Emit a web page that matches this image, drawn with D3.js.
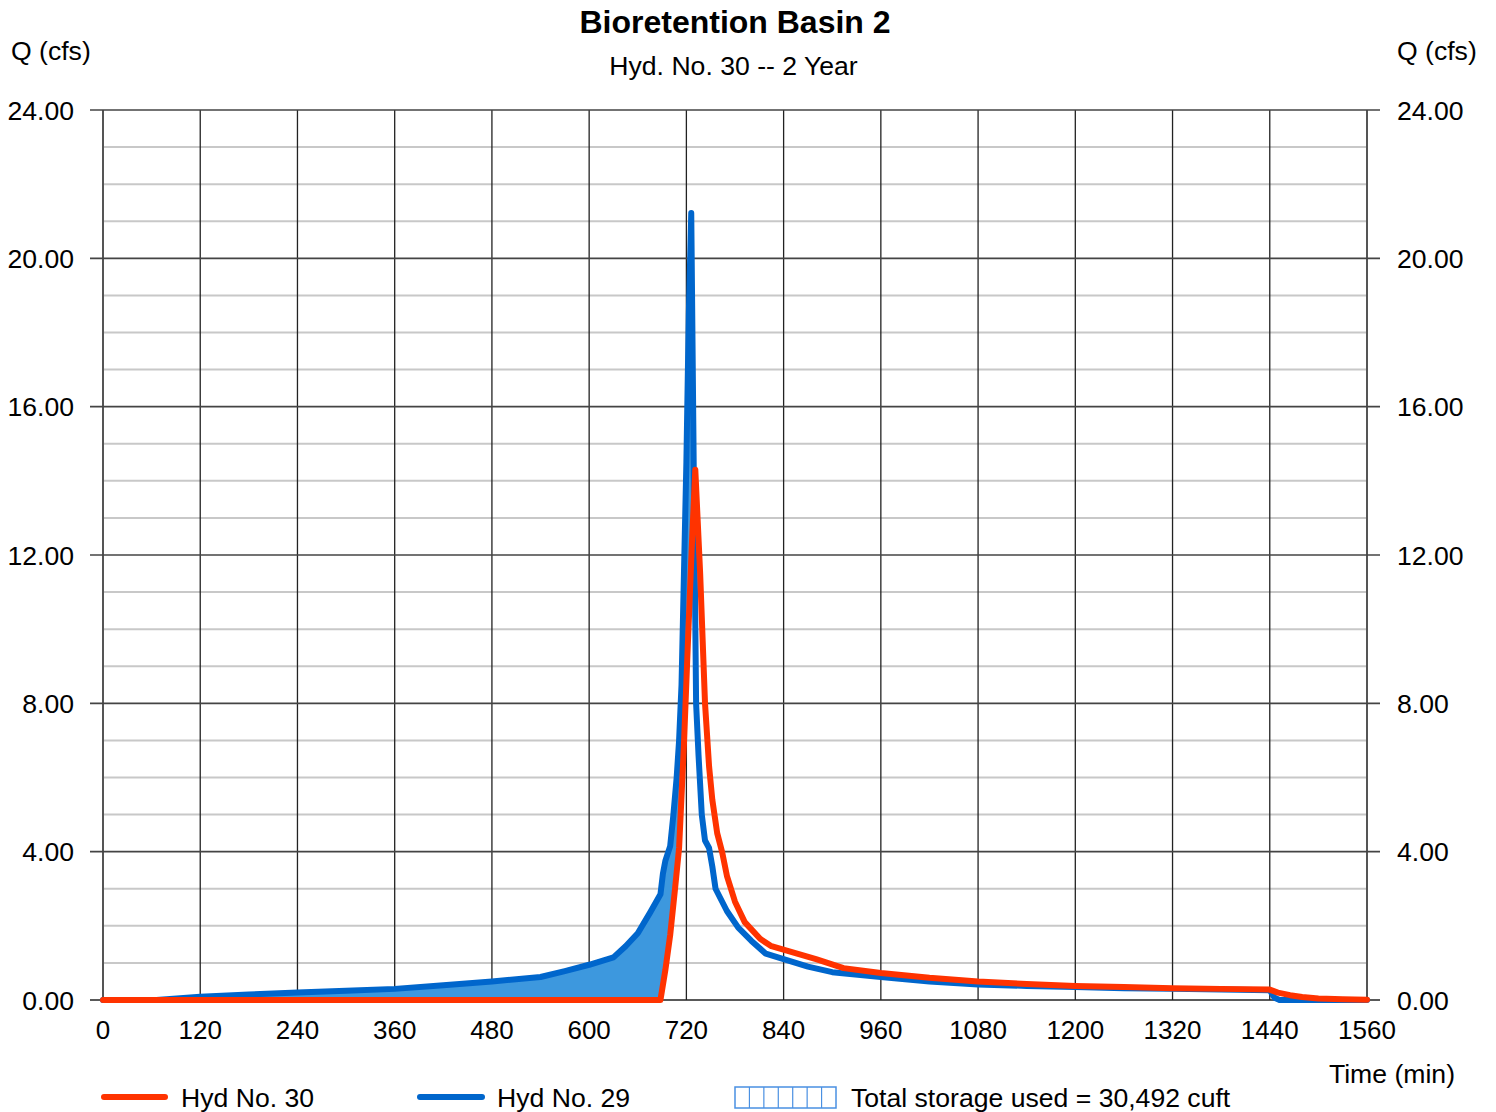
<!DOCTYPE html>
<html>
<head>
<meta charset="utf-8">
<script src="https://cdn.jsdelivr.net/npm/d3@7"></script>
<style>
  html, body { margin: 0; padding: 0; background: #fff; }
  svg { display: block; font-family: "Liberation Sans", Arial, sans-serif; }
</style>
</head>
<body>
<svg id="chart" width="1496" height="1112"></svg>
<script>
// Inflow hydrograph (Hyd No. 29): time in minutes, flow in cfs
const hyd29Time = [0, 66, 120, 180, 240, 300, 360, 420, 480, 540, 570, 600, 630, 645, 660, 675, 688, 691, 694, 700, 704, 708, 711, 714, 717, 720, 723, 726, 729, 732, 735, 739, 743, 748, 752, 756, 770, 784, 800, 818, 840, 870, 900, 960, 1020, 1080, 1140, 1200, 1260, 1320, 1380, 1440, 1446, 1452, 1560];
const hyd29Flow = [0, 0, 0.09, 0.15, 0.2, 0.25, 0.3, 0.4, 0.5, 0.62, 0.78, 0.95, 1.15, 1.45, 1.8, 2.35, 2.85, 3.4, 3.75, 4.15, 5.0, 6.0, 7.0, 8.5, 11.5, 14.5, 18.5, 21.22, 14.5, 8.0, 6.6, 5.0, 4.3, 4.1, 3.6, 3.0, 2.4, 1.95, 1.6, 1.25, 1.1, 0.9, 0.75, 0.62, 0.5, 0.42, 0.38, 0.35, 0.32, 0.3, 0.28, 0.26, 0.06, 0, 0];

// Outflow hydrograph (Hyd No. 30)
const hyd30Time = [0, 688, 694, 700, 706, 711, 717, 722, 727, 731, 737, 743, 748, 752, 758, 764, 770, 780, 792, 811, 825, 844, 880, 914, 960, 1020, 1080, 1140, 1200, 1260, 1320, 1380, 1440, 1450, 1465, 1480, 1500, 1530, 1560];
const hyd30Flow = [0, 0, 0.8, 1.75, 3.0, 4.1, 6.9, 9.7, 12.4, 14.3, 11.5, 8.0, 6.3, 5.4, 4.5, 4.0, 3.35, 2.65, 2.1, 1.65, 1.45, 1.33, 1.1, 0.86, 0.73, 0.6, 0.5, 0.43, 0.38, 0.35, 0.32, 0.3, 0.28, 0.2, 0.13, 0.08, 0.04, 0.02, 0.01];

const xTickValues = [0, 120, 240, 360, 480, 600, 720, 840, 960, 1080, 1200, 1320, 1440, 1560];
const yMajorTicks = [0, 4, 8, 12, 16, 20, 24];
const yMinorTicks = [1, 2, 3, 5, 6, 7, 9, 10, 11, 13, 14, 15, 17, 18, 19, 21, 22, 23];

const chartTitle = "Bioretention Basin 2";
const chartSubtitle = "Hyd. No. 30 -- 2 Year";
const legendLabels = ["Hyd No. 30", "Hyd No. 29", "Total storage used = 30,492 cuft"];

const hyd29 = hyd29Time.map((t, i) => ({ t, q: hyd29Flow[i] }));
const hyd30 = hyd30Time.map((t, i) => ({ t, q: hyd30Flow[i] }));

const svg = d3.select("#chart");
const plotL = 103, plotR = 1367, plotT = 110, plotB = 1000;

const x = d3.scaleLinear().domain([0, 1560]).range([plotL, plotR]);
const y = d3.scaleLinear().domain([0, 24]).range([plotB, plotT]);

const RED = "#ff3300", BLUE = "#0066cc", FILL = "#3d98de";
const FS = 26.6;

// Minor horizontal grid
svg.append("g").selectAll("line").data(yMinorTicks).join("line")
  .attr("x1", plotL).attr("x2", plotR)
  .attr("y1", d => y(d)).attr("y2", d => y(d))
  .attr("stroke", "#c8c8c8").attr("stroke-width", 2);

// Vertical grid
svg.append("g").selectAll("line").data(xTickValues).join("line")
  .attr("x1", d => x(d)).attr("x2", d => x(d))
  .attr("y1", plotT).attr("y2", plotB)
  .attr("stroke", d => (d === 0 || d === 1560) ? "#555" : "#222")
  .attr("stroke-width", d => (d === 0 || d === 1560) ? 2 : 1.3);

// Major horizontal grid with outside ticks on both sides
svg.append("g").selectAll("line").data(yMajorTicks).join("line")
  .attr("x1", plotL - 13).attr("x2", plotR + 13)
  .attr("y1", d => y(d)).attr("y2", d => y(d))
  .attr("stroke", d => d === 0 ? "#222" : "#444").attr("stroke-width", 1.6);

// Y tick labels (left and right)
const fmt = d3.format(".2f");
svg.append("g").selectAll("text").data(yMajorTicks).join("text")
  .attr("x", 74).attr("y", d => y(d) + 9.5)
  .attr("text-anchor", "end").attr("font-size", FS)
  .text(d => fmt(d));
svg.append("g").selectAll("text").data(yMajorTicks).join("text")
  .attr("x", 1397).attr("y", d => y(d) + 9.5)
  .attr("text-anchor", "start").attr("font-size", FS)
  .text(d => fmt(d));

// X tick labels
svg.append("g").selectAll("text").data(xTickValues).join("text")
  .attr("x", d => x(d)).attr("y", 1039)
  .attr("text-anchor", "middle").attr("font-size", 26)
  .text(d => d);

// Storage fill: area under inflow, limited to the region above outflow
const defs = svg.append("defs");
defs.append("clipPath").attr("id", "above-outflow")
  .append("path")
  .attr("d", d3.area().x(d => x(d.t)).y0(y(24)).y1(d => y(d.q))(hyd30));

svg.append("path")
  .attr("d", d3.area().x(d => x(d.t)).y0(y(0)).y1(d => y(d.q))(hyd29))
  .attr("fill", FILL)
  .attr("clip-path", "url(#above-outflow)");

const line = d3.line().x(d => x(d.t)).y(d => y(d.q));

svg.append("path").attr("d", line(hyd29))
  .attr("fill", "none").attr("stroke", BLUE).attr("stroke-width", 6)
  .attr("stroke-linejoin", "round").attr("stroke-linecap", "round");

svg.append("path").attr("d", line(hyd30))
  .attr("fill", "none").attr("stroke", RED).attr("stroke-width", 6)
  .attr("stroke-linejoin", "round").attr("stroke-linecap", "round");

// Titles and axis labels
svg.append("text").attr("x", 735).attr("y", 33).attr("text-anchor", "middle")
  .attr("font-size", 32).attr("font-weight", "bold").text(chartTitle);
svg.append("text").attr("x", 733.5).attr("y", 75).attr("text-anchor", "middle")
  .attr("font-size", FS).text(chartSubtitle);
svg.append("text").attr("x", 11).attr("y", 60).attr("font-size", FS).text("Q (cfs)");
svg.append("text").attr("x", 1397).attr("y", 60).attr("font-size", FS).text("Q (cfs)");
svg.append("text").attr("x", 1455).attr("y", 1083).attr("text-anchor", "end")
  .attr("font-size", FS).text("Time (min)");

// Legend
const legend = svg.append("g");
legend.append("line").attr("x1", 104).attr("x2", 165).attr("y1", 1097).attr("y2", 1097)
  .attr("stroke", RED).attr("stroke-width", 6).attr("stroke-linecap", "round");
legend.append("text").attr("x", 181).attr("y", 1107).attr("font-size", FS).text(legendLabels[0]);
legend.append("line").attr("x1", 420).attr("x2", 482).attr("y1", 1097).attr("y2", 1097)
  .attr("stroke", BLUE).attr("stroke-width", 6).attr("stroke-linecap", "round");
legend.append("text").attr("x", 497).attr("y", 1107).attr("font-size", FS).text(legendLabels[1]);

const swX = 735, swY = 1087, swW = 101, swH = 21, cells = 7;
legend.append("rect").attr("x", swX).attr("y", swY).attr("width", swW).attr("height", swH)
  .attr("fill", "#fff").attr("stroke", "#4a90e2").attr("stroke-width", 1.5);
legend.append("g").selectAll("line").data(d3.range(1, cells)).join("line")
  .attr("x1", i => swX + i * swW / cells).attr("x2", i => swX + i * swW / cells)
  .attr("y1", swY).attr("y2", swY + swH)
  .attr("stroke", "#4a90e2").attr("stroke-width", 1.2);
legend.append("text").attr("x", 851).attr("y", 1107).attr("font-size", FS).text(legendLabels[2]);
</script>
</body>
</html>
